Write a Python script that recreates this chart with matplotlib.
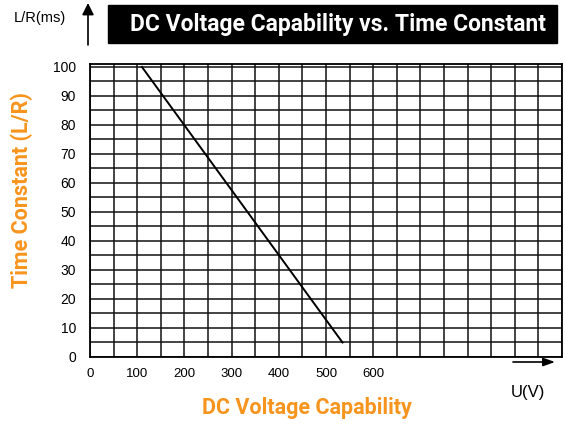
import matplotlib.pyplot as plt
from matplotlib.patches import Rectangle, FancyArrowPatch

# data
voltage = [110, 535]          # U (V)
time_constant = [100, 5]      # L/R (ms)
x_ticks = [0, 100, 200, 300, 400, 500, 600]
y_ticks = [0, 10, 20, 30, 40, 50, 60, 70, 80, 90, 100]

plt.rcParams['font.family'] = ['Liberation Sans', 'DejaVu Sans']
orange = '#F7941D'
title_font = dict(family=['Roboto', 'DejaVu Sans'], weight='bold', stretch='condensed')

fig = plt.figure(figsize=(5.65, 4.25), dpi=100)
ax = fig.add_axes([90 / 565, 1 - 357 / 425, 472 / 565, 293 / 425])

ax.plot(voltage, time_constant, color='black', lw=1.4)

ax.set_xlim(0, 1000)
ax.set_ylim(0, 101)
ax.set_xticks(range(0, 1001, 50))
ax.set_yticks(range(0, 101, 5))
ax.set_xticklabels([str(v) if v in x_ticks else '' for v in range(0, 1001, 50)], fontsize=9.5)
ax.set_yticklabels([str(v) if v in y_ticks else '' for v in range(0, 101, 5)], fontsize=10)
ax.tick_params(axis='x', length=0, pad=8)
ax.tick_params(axis='y', length=0, pad=10)
ax.grid(True, color='#111111', lw=1.1)
for s in ax.spines.values():
    s.set_linewidth(1.3)

# title box
fig.patches.append(Rectangle((108 / 565, 1 - 43 / 425), 449 / 565, 38 / 425,
                             transform=fig.transFigure, color='black'))
fig.text(338 / 565, 1 - 24 / 425, 'DC Voltage Capability vs. Time Constant',
         color='white', fontsize=16.5, ha='center', va='center', **title_font)

# axis labels
fig.text(22 / 565, 1 - 190 / 425, 'Time Constant (L/R)', color=orange, fontsize=15.5,
         rotation=90, ha='center', va='center', **title_font)
fig.text(307 / 565, 1 - 408 / 425, 'DC Voltage Capability', color=orange, fontsize=15.5,
         ha='center', va='center', **title_font)

# unit labels and arrows
fig.text(40 / 565, 1 - 18 / 425, 'L/R(ms)', fontsize=10.5, ha='center', va='center')
fig.text(528 / 565, 1 - 392 / 425, 'U(V)', fontsize=12, ha='center', va='center')
fig.add_artist(FancyArrowPatch((88 / 565, 1 - 45 / 425), (88 / 565, 1 - 3 / 425),
                               transform=fig.transFigure, arrowstyle='-|>,head_length=7,head_width=3.5',
                               color='black', lw=1.2, shrinkA=0, shrinkB=0))
fig.add_artist(FancyArrowPatch((513 / 565, 1 - 362 / 425), (555 / 565, 1 - 362 / 425),
                               transform=fig.transFigure, arrowstyle='-|>,head_length=7,head_width=2.5',
                               color='black', lw=1.2, shrinkA=0, shrinkB=0))

fig.savefig('out.png', dpi=100)
